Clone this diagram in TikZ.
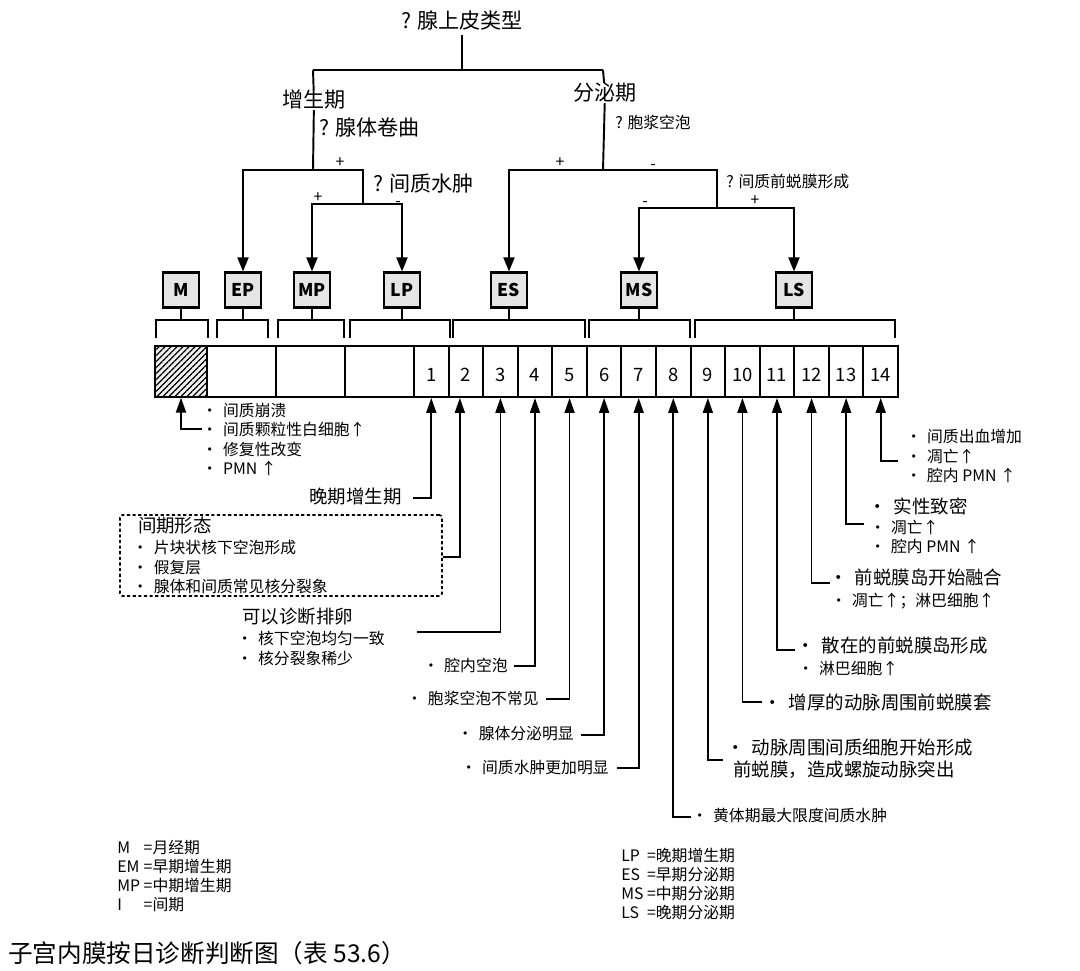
\documentclass[tikz,border=0pt]{standalone}
\usepackage{fontspec}
\setmainfont{Noto Sans CJK SC}
\usetikzlibrary{arrows.meta,positioning,patterns.meta,calc}
\newcommand\treefont{\fontsize{12pt}{14pt}\selectfont}
\newcommand\bigfont{\fontsize{10.5pt}{12.5pt}\selectfont}
\newcommand\smallfont{\fontsize{9pt}{11pt}\selectfont}
\newcommand\legfont{\fontsize{9pt}{10.8pt}\selectfont}
\newcommand\nbul{\makebox[1em][l]{\hspace{-0.35em}·}}
\tikzset{
  treeln/.style={line width=1.1pt},
  arr/.style={-{Triangle[length=0.28cm,width=0.22cm]}},
  arrs/.style={{Triangle[length=0.28cm,width=0.22cm]}-{Triangle[length=0.28cm,width=0.22cm]}},
  uparr/.style={line width=1pt, -{Triangle[length=0.3cm,width=0.2cm]}},
  stage/.style={draw, line width=1.2pt, fill=gray!20, minimum width=0.72cm, minimum height=0.7cm, inner sep=0pt, font=\fontsize{10pt}{12pt}\selectfont\bfseries},
  cell/.style={draw, line width=1.1pt, minimum height=1.02cm, inner sep=0pt, text height=0.4cm, text depth=0pt, font=\fontsize{10.5pt}{12pt}\selectfont},
  brk/.style={line width=0.9pt},
  qlab/.style={font=\treefont, inner sep=0pt},
  sgn/.style={font=\smallfont, inner sep=0pt, text height=0.6em, text depth=0pt},
  note/.style={font=\smallfont, inner sep=0pt, align=left},
  bignote/.style={font=\bigfont, inner sep=0pt, align=left},
  ibox/.style={draw, line width=1pt, dash pattern=on 1.8pt off 1.4pt, rounded corners=1.5pt, align=left, font=\smallfont},
  leg/.style={font=\legfont, inner sep=0pt, anchor=north west}
}
\begin{document}
\begin{tikzpicture}[x=0.02cm, y=-0.02cm]
\useasboundingbox (0,0) rectangle (1080,971);
% decision tree
\node[qlab] (qtype) at (462,20) {? 腺上皮类型};
\coordinate (pro) at (313,70);
\coordinate (sec) at (603,70);
\node[qlab] (tpro) at (314,100) {增生期};
\node[qlab, anchor=west] (qgland) at (319,127) {? 腺体卷曲};
\coordinate (jg) at (313,170);
\coordinate (je) at (363,170);
\coordinate (je2) at (363,204);
\node[qlab, anchor=west] (qedema) at (373,184) {? 间质水肿};
\node[qlab] (tsec) at (605,93) {分泌期};
\node[sgn, anchor=west] (qvac) at (615,123) {? 胞浆空泡};
\coordinate (jv) at (603,170);
\coordinate (jd) at (717,170);
\coordinate (jd2) at (717,208);
\node[sgn, anchor=west] (qdec) at (726,182) {? 间质前蜕膜形成};
\foreach \t/\x/\y [count=\k] in {+/340/162, +/318/197, -/398/201, +/560/162, -/653/164, -/645/201, +/755/200}
  \node[sgn] (s\k) at (\x,\y) {\t};
% stage boxes
\foreach \n/\x in {M/181, EP/243, MP/312, LP/402, ES/509, MS/639, LS/794}
  \node[stage] (\n) at (\x,290) {\n};
\draw[treeln] ([yshift=-3pt]qtype.south) -- (qtype.south |- pro);
\draw[treeln] (pro) -- (sec);
\draw[treeln] (pro) -- (tpro) -- (jg);
\draw[treeln, arr] (je2) -- (je) -| (EP);
\draw[treeln, arrs] (MP) |- (je2) -| (LP);
\draw[treeln] (sec) -- (tsec) -- (jv);
\draw[treeln, arr] (jd2) -- (jd) -| (ES);
\draw[treeln, arrs] (MS) |- (jd2) -| (LS);
% brackets
\foreach \n/\a/\b in {M/156/208, EP/217/268, MP/278/344, LP/350/450, ES/453/585, MS/589/690, LS/695/895} {
  \draw[brk] (\a,338) |- (\b,320) -- (\b,338);
  \draw[brk] (\n) -- (\n |- \a,320);
}
% day strip
\node[cell, minimum width=1.04cm, preaction={fill=gray!12}, pattern={Lines[angle=45,distance=2.4pt,line width=0.7pt]}] (cM) at (181,371.5) {};
\node[cell, minimum width=1.38cm] (cE) at (241.5,371.5) {};
\node[cell, minimum width=1.38cm] (cMP) at (310.5,371.5) {};
\node[cell, minimum width=1.38cm] (cL) at (379.5,371.5) {};
\foreach \i in {1,...,14}
  \node[cell, minimum width=0.6914cm] (d\i) at ({414+34.571*(\i-0.5)},371.5) {\i};
% arrows from the notes
\coordinate (aM) at (202,429);
\draw[uparr] (aM) -| (cM.south);
\foreach \i/\x/\y in {1/413/498, 3/417/632, 4/514/666, 5/546/699, 6/581/735, 7/617/768, 8/691/817, 9/723/760, 10/762/702, 11/795/650, 12/830/583, 13/864/524, 14/898/461}
  \coordinate (a\i) at (\x,\y);
\foreach \i in {1,3,4,5,6,7,8,9,10,11,12,13,14}
  \draw[uparr] (a\i) -| (d\i.south);
\node[ibox, minimum width=6.44cm, minimum height=1.62cm, text width=5.72cm, inner xsep=0.36cm, inner ysep=0pt] (ibox) at (281,555.5)
  {{\bigfont 间期形态}\\[1pt]\nbul 片块状核下空泡形成\\\nbul 假复层\\\nbul 腺体和间质常见核分裂象};
\draw[uparr] (ibox.east |- 0,557) -| ([xshift=-0.12cm]d2.south);
% notes
\node[note, anchor=west] (nM) at (207,439.5) {\nbul 间质崩溃\\\nbul 间质颗粒性白细胞↑\\\nbul 修复性改变\\\nbul PMN ↑};
\node[bignote, anchor=east] (l1) at (402,497) {晚期增生期};
\node[note, anchor=west] (l3) at (242,637) {{\bigfont 可以诊断排卵}\\[1pt]\nbul 核下空泡均匀一致\\\nbul 核分裂象稀少};
\node[note, anchor=east] (l4) at (508,665) {\nbul 腔内空泡};
\node[note, anchor=east] (l5) at (539,698) {\nbul 胞浆空泡不常见};
\node[note, anchor=east] (l6) at (574,734) {\nbul 腺体分泌明显};
\node[note, anchor=east] (l7) at (609,768) {\nbul 间质水肿更加明显};
\node[note, anchor=west] (l8) at (697,815) {\nbul 黄体期最大限度间质水肿};
\node[bignote, anchor=west] (l9) at (733,759) {\nbul 动脉周围间质细胞开始形成\\前蜕膜，造成螺旋动脉突出};
\node[bignote, anchor=west] (l10) at (770,702) {\nbul 增厚的动脉周围前蜕膜套};
\node[note, anchor=west] (l11) at (803,656) {{\bigfont\nbul 散在的前蜕膜岛形成}\\[1.5pt]\nbul 淋巴细胞↑};
\node[note, anchor=west] (l12) at (836,589) {{\bigfont\nbul 前蜕膜岛开始融合}\\[1.5pt]\nbul 凋亡↑；淋巴细胞↑};
\node[note, anchor=west] (l13) at (875,526) {{\bigfont\nbul 实性致密}\\[0.5pt]\nbul 凋亡↑\\\nbul 腔内 PMN ↑};
\node[note, anchor=west] (l14) at (911,456) {\nbul 间质出血增加\\\nbul 凋亡↑\\\nbul 腔内 PMN ↑};
% legend and caption
\node[leg] (legL) at (117,840) {\begin{tabular}{@{}l@{\ }l@{}} M & =月经期\\ EM & =早期增生期\\ MP & =中期增生期\\ I & =间期\end{tabular}};
\node[leg] (legR) at (621,848) {\begin{tabular}{@{}l@{\ }l@{}} LP & =晚期增生期\\ ES & =早期分泌期\\ MS & =中期分泌期\\ LS & =晚期分泌期\end{tabular}};
\node[anchor=west, inner sep=0pt, font=\fontsize{14pt}{16pt}\selectfont] (cap) at (8,953) {子宫内膜按日诊断判断图（表 53.6）};
\end{tikzpicture}
\end{document}
